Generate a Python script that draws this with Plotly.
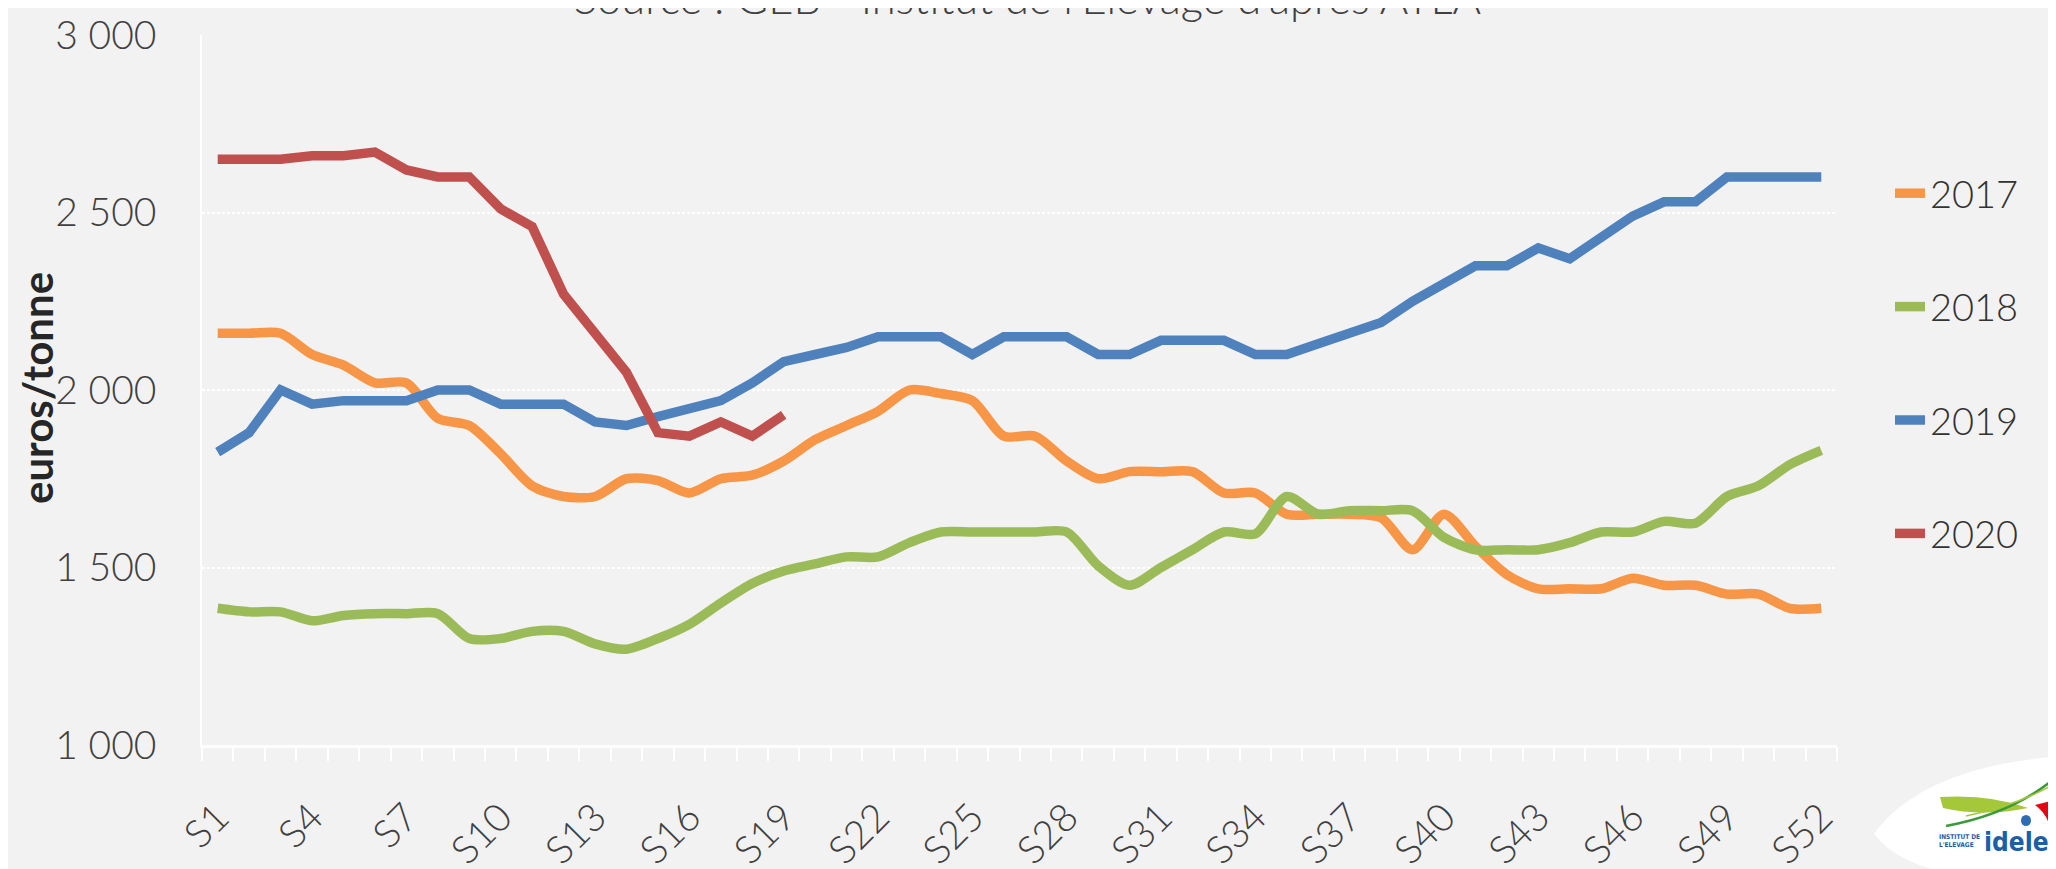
import plotly.graph_objects as go

# ---------------- data ----------------
WEEKS = [f"S{i}" for i in range(1, 53)]

Y2017 = [2160, 2160, 2160, 2100, 2070, 2020, 2020, 1920, 1900, 1820,
         1730, 1700, 1700, 1750, 1745, 1710, 1750, 1760, 1800, 1860,
         1900, 1940, 2000, 1990, 1970, 1870, 1870, 1800, 1750, 1770,
         1770, 1770, 1710, 1710, 1650, 1650, 1650, 1640, 1550, 1650,
         1560, 1480, 1440, 1440, 1440, 1470, 1450, 1450, 1425, 1425,
         1385, 1385]

Y2018 = [1385, 1375, 1375, 1350, 1365, 1370, 1370, 1370, 1300, 1300,
         1320, 1320, 1285, 1270, 1300, 1340, 1400, 1455, 1490, 1510,
         1530, 1530, 1570, 1600, 1600, 1600, 1600, 1600, 1505, 1450,
         1500, 1550, 1600, 1595, 1700, 1650, 1660, 1660, 1660, 1585,
         1550, 1550, 1550, 1570, 1600, 1600, 1630, 1625, 1700, 1730,
         1790, 1830]

Y2019 = [1825, 1880, 2000, 1960, 1970, 1970, 1970, 2000, 2000, 1960,
         1960, 1960, 1910, 1900, 1925, 1950, 1970, 2020, 2080, 2100,
         2120, 2150, 2150, 2150, 2100, 2150, 2150, 2150, 2100, 2100,
         2140, 2140, 2140, 2100, 2100, 2130, 2160, 2190, 2250, 2300,
         2350, 2350, 2400, 2370, 2430, 2490, 2530, 2530, 2600, 2600,
         2600, 2600]

Y2020 = [2650, 2650, 2650, 2660, 2660, 2670, 2620, 2600, 2600, 2510,
         2460, 2270, 2160, 2050, 1880, 1870, 1910, 1870, 1930]

SERIES_NAMES = ["2017", "2018", "2019", "2020"]
Y_TICKS = [1000, 1500, 2000, 2500, 3000]
Y_TICKTEXT = ["1 000", "1 500", "2 000", "2 500", "3 000"]
X_LABEL_STEP = 3

TITLE = "Source : GEB - Institut de l'Elevage d'après ATLA"
Y_TITLE = "euros/tonne"

# ---------------- styling ----------------
W, H = 2056, 869
L, R, T, B = 194, 227, 27, 132
PW, PH = W - L - R, H - T - B
BG = "#F2F2F2"
COLORS = {"2017": "#F79646", "2018": "#9BBB59", "2019": "#4F81BD", "2020": "#C0504D"}
SHAPES = {"2017": "spline", "2018": "spline", "2019": "linear", "2020": "linear"}
TXT = "#404040"
FONT = "Lato, 'Open Sans', sans-serif"


def px_x(p):
    return (p - L) / PW


def px_y(p):
    return (T + PH - p) / PH


xnum = list(range(1, len(WEEKS) + 1))
data = {"2017": Y2017, "2018": Y2018, "2019": Y2019, "2020": Y2020}

fig = go.Figure()
for name in SERIES_NAMES:
    ys = data[name]
    fig.add_trace(go.Scatter(
        x=xnum[:len(ys)], y=ys, name=name, mode="lines",
        line=dict(color=COLORS[name], width=9.5, shape=SHAPES[name], smoothing=0.8),
        legendgroup="g" + name,
        hovertemplate="%{text}: %{y}<extra>" + name + "</extra>",
        text=WEEKS[:len(ys)],
    ))

tickvals = xnum[::X_LABEL_STEP]
ticktext = WEEKS[::X_LABEL_STEP]

fig.update_layout(
    width=W, height=H,
    paper_bgcolor=BG, plot_bgcolor=BG,
    margin=dict(l=L, r=R, t=T, b=B, autoexpand=False),
    font=dict(family=FONT, color=TXT),
    showlegend=True,
    legend=dict(
        x=px_x(1882), y=px_y(154), xanchor="left", yanchor="top",
        font=dict(family=FONT, size=38, color="#333333", weight=300),
        tracegroupgap=61, bgcolor="rgba(0,0,0,0)", itemwidth=30,
    ),
    xaxis=dict(
        range=[0.5, len(WEEKS) + 0.5],
        tickmode="array", tickvals=tickvals, ticktext=ticktext,
        tickangle=-45, ticks="",
        tickfont=dict(family=FONT, size=39, color=TXT, weight=300),
        ticklabelstandoff=31,
        showgrid=False, zeroline=False,
        showline=True, linecolor="white", linewidth=2.5,
        minor=dict(tickmode="array", tickvals=[v + 0.5 for v in range(0, len(WEEKS) + 1)],
                   ticks="outside", ticklen=13, tickcolor="white", tickwidth=2,
                   showgrid=False),
    ),
    yaxis=dict(
        range=[1000, 3000],
        tickmode="array", tickvals=Y_TICKS, ticktext=Y_TICKTEXT,
        ticks="",
        tickfont=dict(family=FONT, size=39, color=TXT, weight=300),
        ticklabelstandoff=36,
        showgrid=True, gridcolor="white", gridwidth=2, griddash="3px,2px",
        zeroline=False,
        showline=True, linecolor="white", linewidth=1.5,
    ),
)

annotations = [
    dict(text=TITLE, xref="paper", yref="paper", x=px_x(1019), y=px_y(-11),
         xanchor="center", yanchor="middle", showarrow=False,
         font=dict(family=FONT, size=43.5, color=TXT, weight=300)),
    dict(text="<b>" + Y_TITLE + "</b>", xref="paper", yref="paper", x=px_x(29), y=px_y(380),
         xanchor="center", yanchor="middle", showarrow=False, textangle=-90,
         font=dict(family=FONT, size=42, color="#262626")),
    # logo text
    dict(text="<b>INSTITUT DE<br>L'ELEVAGE</b>", xref="paper", yref="paper",
         x=px_x(1929), y=px_y(833), xanchor="left", yanchor="middle", showarrow=False,
         align="left", font=dict(family="'DejaVu Sans Condensed', sans-serif", size=6.5, color="#1D5EA8")),
    dict(text="<b>idele</b>", xref="paper", yref="paper",
         x=px_x(1974), y=px_y(834), xanchor="left", yanchor="middle", showarrow=False,
         font=dict(family="'DejaVu Sans Condensed', sans-serif", size=26, color="#1D5EA8")),
]


def P(x, y):
    return f"{px_x(x):.5f},{px_y(y):.5f}"


shapes = [
    # white leaf behind the logo
    dict(type="path", xref="paper", yref="paper", layer="below",
         path=f"M{P(1866, 826)} Q{P(1915, 758)} {P(2056, 748)} L{P(2056, 869)} L{P(1955, 869)} Q{P(1888, 856)} {P(1866, 826)} Z",
         fillcolor="white", line=dict(width=0)),
    # lime swoosh
    dict(type="path", xref="paper", yref="paper",
         path=f"M{P(1932, 789)} Q{P(1982, 786)} {P(2020, 800)} Q{P(1975, 809)} {P(1935, 800)} Z",
         fillcolor="#A5C83A", line=dict(width=0)),
    # dark green stroke
    dict(type="path", xref="paper", yref="paper",
         path=f"M{P(1938, 818)} Q{P(2003, 806)} {P(2046, 771)}",
         line=dict(color="#3C9A3A", width=2.5)),
    dict(type="path", xref="paper", yref="paper",
         path=f"M{P(1958, 808)} Q{P(2010, 797)} {P(2046, 776)}",
         line=dict(color="#A5C83A", width=1.5)),
    # red flag
    dict(type="path", xref="paper", yref="paper",
         path=f"M{P(2027, 797)} L{P(2043, 793)} Q{P(2048, 805)} {P(2041, 816)} Q{P(2037, 804)} {P(2027, 797)} Z",
         fillcolor="#E30613", line=dict(width=0)),
    # blue drop
    dict(type="circle", xref="paper", yref="paper",
         x0=px_x(2013), x1=px_x(2023), y0=px_y(818), y1=px_y(807),
         fillcolor="#2E6DB4", line=dict(width=0)),
]

fig.update_layout(annotations=annotations, shapes=shapes)
fig.write_html("out.html")
